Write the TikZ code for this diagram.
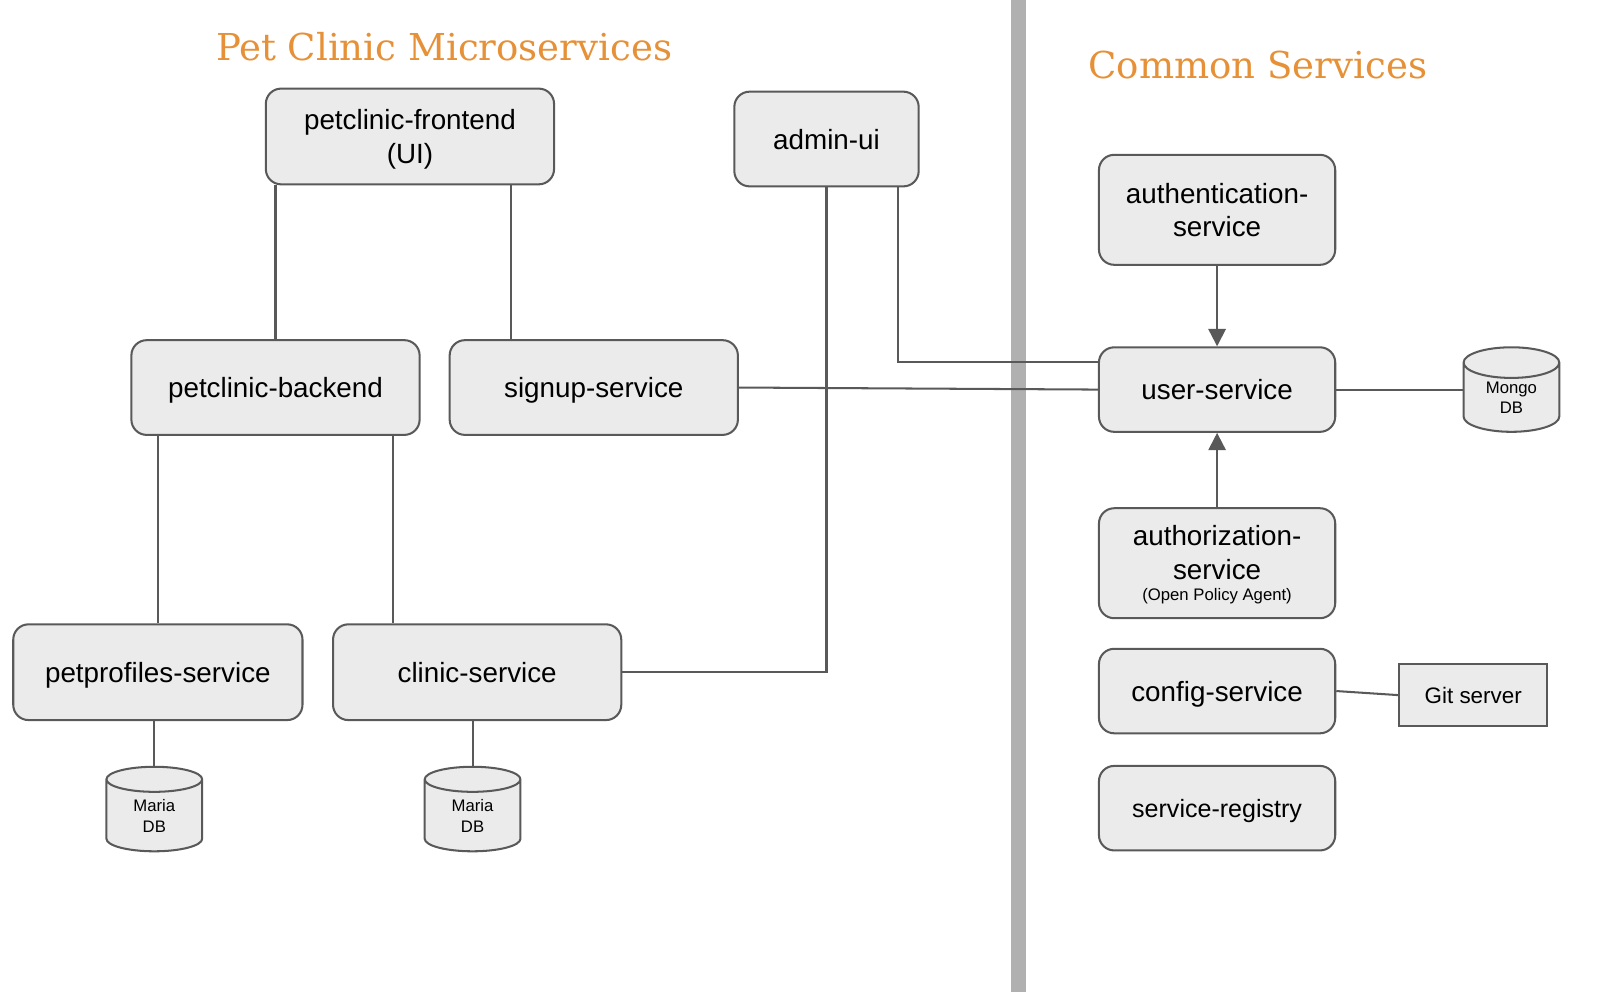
\documentclass[tikz,border=0pt]{standalone}
\usepackage{fontspec}
\setmainfont{Liberation Sans}
\newfontfamily\titlefont{DejaVu Serif}
\usetikzlibrary{shapes.geometric,arrows.meta}

\definecolor{box area}{HTML}{EBEBEB}
\definecolor{box edge}{HTML}{595959}
\definecolor{title orange}{HTML}{E69138}
\definecolor{split gray}{HTML}{B0B0B0}
\def\smalltext{\fontsize{8.2pt}{10pt}\selectfont}
\tikzset{service/.style={draw=box edge, fill=box area, line width=1pt, rounded corners=7.5pt,
      inner sep=0pt, minimum width=116pt, minimum height=41.5pt, align=center, text depth=0pt,
      font=\fontsize{13.65pt}{16.5pt}\selectfont},
    database/.style={cylinder, shape border rotate=90, aspect=0.6, draw=box edge, fill=box area,
      line width=1pt, inner sep=0pt, minimum width=47pt, minimum height=41.5pt, align=center,
      font=\smalltext},
    server/.style={draw=box edge, fill=box area, line width=1pt, inner sep=0pt,
      minimum width=72.5pt, minimum height=30.5pt, font=\fontsize{11pt}{13pt}\selectfont},
    link/.style={draw=box edge, line width=1pt},
    uses/.style={link, -{Triangle[length=8.5pt,width=8.5pt]}},
    heading/.style={text=title orange, anchor=base, font=\titlefont\fontsize{18.2pt}{22pt}\selectfont}}

\begin{document}
\begin{tikzpicture}[x=0.5pt, y=-0.5pt]
  \useasboundingbox (0,0) rectangle (1569,974);
  \draw[split gray, line width=7pt] (1000,0) -- (1000,974);
  \node[heading] (petclinic) at (436,59) {Pet Clinic Microservices};
  \node[heading] (common) at (1235,77) {Common Services};

  \node[service, minimum width=141.5pt, minimum height=47pt] (front) at (402.5,134) {petclinic-frontend\\(UI)};
  \node[service, minimum width=90.5pt, minimum height=46.5pt] (admin) at (811.5,136.5) {admin-ui};
  \node[service, minimum height=54pt] (auth) at (1195,206) {authentication-\\service};
  \node[service, minimum width=141.5pt, minimum height=46.5pt] (back) at (270.5,380.5) {petclinic-backend};
  \node[service, minimum width=141.5pt, minimum height=46.5pt] (signup) at (583,380.5) {signup-service};
  \node[service] (user) at (1195,382.5) {user-service};
  \node[database] (mongo) at (1484,390.5) {Mongo\\DB};
  \node[service, minimum height=54pt] (authz) at (1195,553) {authorization-\\service\\[-6pt]{\smalltext (Open Policy Agent)}};
  \node[service, minimum width=142pt, minimum height=47pt] (pets) at (155,660) {petprofiles-service};
  \node[service, minimum width=141.5pt, minimum height=47pt] (clinic) at (468.5,660) {clinic-service};
  \node[service] (config) at (1195,678.5) {config-service};
  \node[server] (git) at (1446.5,682.5) {Git server};
  \node[service, font=\fontsize{12.3pt}{15pt}\selectfont] (registry) at (1195,793.5) {service-registry};
  \node[database] (mariapets) at (151.5,801) {Maria\\DB};
  \node[database] (mariaclinic) at (464,801) {Maria\\DB};

  \draw[link] (back.north |- front.south) -- (back.north);
  \draw[link] ([xshift=-21.5pt]front.south east) -- ([xshift=-21.5pt]front.south east |- signup.north);
  \draw[link] (admin.south) |- (clinic.east);
  \draw[link] ([xshift=-10.5pt]admin.south east) |- ([yshift=-7.5pt]user.north west);
  \draw[link] (signup.east) -- (user.west);
  \draw[uses] (auth.south) -- (user.north);
  \draw[uses] (authz.north) -- (user.south);
  \draw[link] (user.east) -- (user.east -| mongo.west);
  \draw[link] (pets.north |- back.south) -- (pets.north);
  \draw[link] ([xshift=-13.5pt]back.south east) -- ([xshift=-13.5pt]back.south east |- clinic.north);
  \draw[link] (mariapets.north |- pets.south) -- (mariapets.north);
  \draw[link] (mariaclinic.north |- clinic.south) -- (mariaclinic.north);
  \draw[link] (config.east) -- (git.west);
\end{tikzpicture}
\end{document}
